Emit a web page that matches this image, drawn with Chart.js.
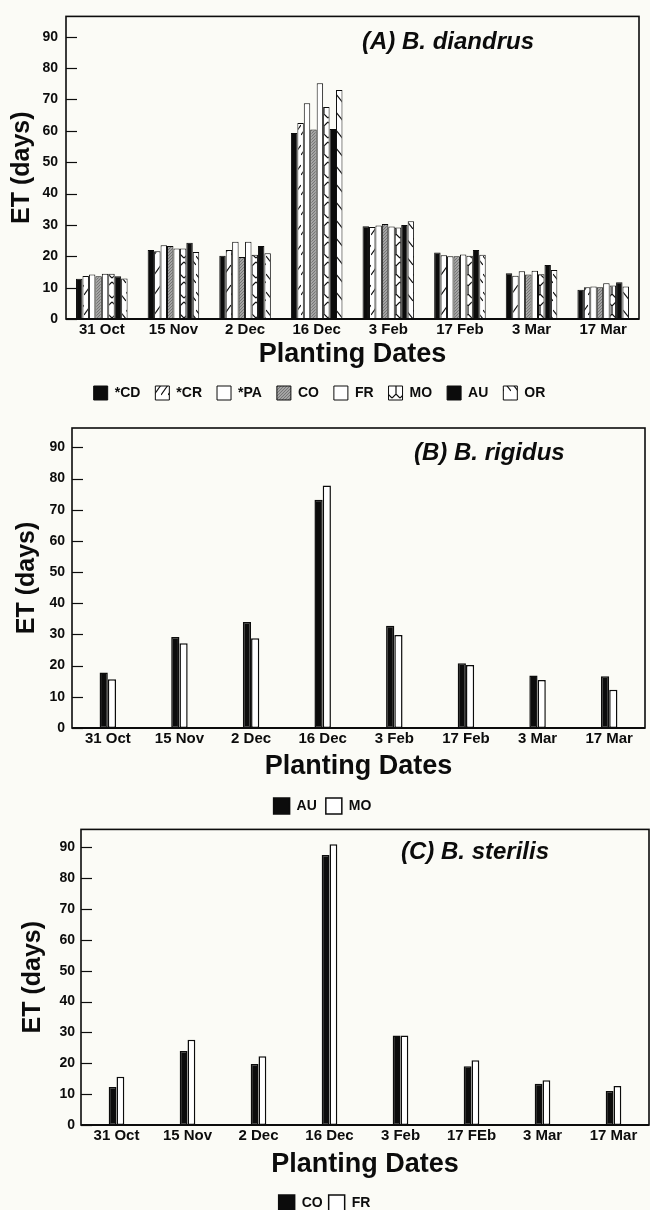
<!DOCTYPE html>
<html>
<head>
<meta charset="utf-8">
<script src="https://cdn.jsdelivr.net/npm/chart.js@4/dist/chart.umd.min.js"></script>
<style>
  html, body { margin: 0; padding: 0; background: #fbfbf6; overflow: hidden; }
  .panel { position: absolute; left: 0; width: 650px; }
</style>
</head>
<body>
<div class="panel" style="top:0;height:412px"><canvas id="chartA"></canvas></div>
<div class="panel" style="top:410px;height:414px"><canvas id="chartB"></canvas></div>
<div class="panel" style="top:815px;height:406px"><canvas id="chartC"></canvas></div>
<script>
// Planting dates (x categories)
const plantingDates = ['31 Oct', '15 Nov', '2 Dec', '16 Dec', '3 Feb', '17 Feb', '3 Mar', '17 Mar'];
const plantingDatesC = ['31 Oct', '15 Nov', '2 Dec', '16 Dec', '3 Feb', '17 FEb', '3 Mar', '17 Mar'];
const yTickValues = [0, 10, 20, 30, 40, 50, 60, 70, 80, 90];

// (A) B. diandrus — ET (days) per population
const diandrusCD = [12.8, 22.0, 20.2, 59.3, 29.6, 21.2, 14.6, 9.3];
const diandrusCR = [13.7, 21.6, 22.0, 62.5, 29.3, 20.3, 13.8, 10.1];
const diandrusPA = [14.2, 23.5, 24.6, 68.8, 29.8, 20.0, 15.2, 10.4];
const diandrusCO = [13.6, 23.3, 19.8, 60.4, 30.3, 20.0, 14.2, 10.1];
const diandrusFR = [14.4, 22.5, 24.6, 75.2, 29.5, 20.6, 15.4, 11.4];
const diandrusMO = [14.4, 22.5, 20.5, 67.6, 29.2, 20.2, 14.3, 10.7];
const diandrusAU = [13.6, 24.3, 23.3, 60.6, 30.0, 22.0, 17.2, 11.7];
const diandrusOR = [12.9, 21.4, 21.0, 73.0, 31.2, 20.5, 15.6, 10.4];

// (B) B. rigidus
const rigidusAU = [17.8, 29.2, 34.0, 73.2, 32.8, 20.8, 16.8, 16.6];
const rigidusMO = [15.6, 27.2, 28.8, 77.8, 29.8, 20.2, 15.4, 12.3];

// (C) B. sterilis
const sterilisCO = [12.3, 24.0, 19.8, 87.5, 29.0, 19.0, 13.4, 11.0];
const sterilisFR = [15.6, 27.6, 22.3, 91.0, 29.0, 21.0, 14.5, 12.6];

const FONT = "'Liberation Sans', Arial, sans-serif";
const INK = '#0c0c0c';

// Fill patterns for the monochrome bars
function tilePattern(ctx, w, h, draw) {
  const c = document.createElement('canvas');
  c.width = w; c.height = h;
  const g = c.getContext('2d');
  g.fillStyle = '#ffffff';
  g.fillRect(0, 0, w, h);
  g.strokeStyle = INK;
  g.fillStyle = INK;
  g.lineWidth = 1.2;
  draw(g, w, h);
  return ctx.createPattern(c, 'repeat');
}

function makePatterns(ctx) {
  return {
    slashUp: tilePattern(ctx, 7, 20, (g) => {
      g.beginPath(); g.moveTo(0, 15); g.lineTo(7, 5); g.stroke();
    }),
    slashDown: tilePattern(ctx, 7, 18, (g) => {
      g.beginPath(); g.moveTo(0, 4); g.lineTo(7, 13); g.stroke();
    }),
    hexes: tilePattern(ctx, 8, 20, (g) => {
      g.beginPath();
      g.moveTo(0, 2); g.lineTo(4, 6); g.lineTo(8, 2);
      g.moveTo(4, 6); g.lineTo(4, 14);
      g.moveTo(0, 18); g.lineTo(4, 14); g.lineTo(8, 18);
      g.stroke();
    }),
    stipple: tilePattern(ctx, 3, 3, (g) => {
      g.fillStyle = '#a4a4a4'; g.fillRect(0, 0, 3, 3);
      g.fillStyle = '#757575'; g.fillRect(0, 0, 1, 1); g.fillRect(2, 1, 1, 1); g.fillRect(1, 2, 1, 1);
    })
  };
}

// Frame, inward y tick marks and in-plot species title
const framePlugin = {
  id: 'panelFrame',
  afterDraw(chart, args, opts) {
    const { ctx, chartArea: a } = chart;
    const ys = chart.scales.y;
    ctx.save();
    ctx.strokeStyle = INK;
    ctx.lineWidth = 1.6;
    ctx.strokeRect(a.left, a.top, a.right - a.left, a.bottom - a.top);
    ctx.lineWidth = 1.2;
    ys.ticks.forEach((t) => {
      const py = Math.round(ys.getPixelForValue(t.value)) + 0.5;
      ctx.beginPath();
      ctx.moveTo(a.left, py);
      ctx.lineTo(a.left + 11, py);
      ctx.stroke();
    });
    ctx.lineWidth = 2;
    ctx.beginPath();
    ctx.moveTo(a.left, a.bottom);
    ctx.lineTo(a.right, a.bottom);
    ctx.stroke();
    ctx.fillStyle = INK;
    ctx.font = "italic bold 24px " + FONT;
    ctx.textAlign = 'left';
    ctx.textBaseline = 'middle';
    ctx.fillText(opts.text, a.left + opts.dx, a.top + opts.dy);
    ctx.restore();
  }
};

function buildChart(id, spec) {
  const el = document.getElementById(id);
  return new Chart(el, {
    type: 'bar',
    data: { labels: spec.labels, datasets: spec.datasets },
    plugins: [framePlugin],
    options: {
      responsive: true,
      maintainAspectRatio: false,
      animation: false,
      layout: { padding: spec.padding },
      datasets: {
        bar: {
          categoryPercentage: spec.categoryPercentage,
          barPercentage: 1.0,
          borderColor: INK,
          borderWidth: spec.barBorder,
          borderSkipped: false
        }
      },
      scales: {
        x: {
          grid: { display: false, drawTicks: false },
          border: { display: false },
          ticks: { color: INK, font: { family: FONT, size: 15, weight: 'bold' }, padding: 2, maxRotation: 0, autoSkip: false },
          title: {
            display: true, text: 'Planting Dates', color: INK,
            font: { family: FONT, size: 27, weight: 'bold' },
            padding: { top: 0, bottom: spec.xTitlePadBottom }
          },
          afterFit: (s) => { s.height = spec.xHeight; }
        },
        y: {
          min: 0,
          max: spec.yMax,
          grid: { display: false, drawTicks: false },
          border: { display: false },
          afterBuildTicks: (s) => { s.ticks = yTickValues.map((v) => ({ value: v })); },
          ticks: { color: INK, font: { family: FONT, size: 14, weight: 'bold' }, padding: spec.yTickPad },
          title: {
            display: true, text: 'ET (days)', color: INK,
            font: { family: FONT, size: 25, weight: 'bold' },
            padding: { top: spec.yTitlePad, bottom: 0 }
          },
          afterFit: (s) => { s.width = spec.yWidth; }
        }
      },
      plugins: {
        legend: {
          position: 'bottom',
          labels: {
            color: INK,
            font: { family: FONT, size: 14, weight: 'bold' },
            boxWidth: spec.legendBox,
            boxHeight: spec.legendBox,
            padding: spec.legendPad
          }
        },
        tooltip: { enabled: false },
        panelFrame: spec.title
      }
    }
  });
}

const ctxA = document.getElementById('chartA').getContext('2d');
const patA = makePatterns(ctxA);

buildChart('chartA', {
  labels: plantingDates,
  datasets: [
    { label: '*CD', data: diandrusCD, backgroundColor: INK },
    { label: '*CR', data: diandrusCR, backgroundColor: patA.slashUp },
    { label: '*PA', data: diandrusPA, backgroundColor: '#ffffff' },
    { label: 'CO', data: diandrusCO, backgroundColor: patA.stipple },
    { label: 'FR', data: diandrusFR, backgroundColor: '#ffffff' },
    { label: 'MO', data: diandrusMO, backgroundColor: patA.hexes },
    { label: 'AU', data: diandrusAU, backgroundColor: INK },
    { label: 'OR', data: diandrusOR, backgroundColor: patA.slashDown }
  ],
  padding: { top: 16, right: 11, left: 0, bottom: 2 },
  categoryPercentage: 0.72,
  barBorder: 1,
  xHeight: 52,
  xTitlePadBottom: 0,
  yMax: 96.5,
  yTickPad: 8,
  yTitlePad: 7,
  yWidth: 66,
  legendBox: 14,
  legendPad: 15,
  title: { text: '(A) B. diandrus', dx: 296, dy: 26 }
});

buildChart('chartB', {
  labels: plantingDates,
  datasets: [
    { label: 'AU', data: rigidusAU, backgroundColor: INK },
    { label: 'MO', data: rigidusMO, backgroundColor: '#ffffff' }
  ],
  padding: { top: 18, right: 5, left: 0, bottom: 0 },
  categoryPercentage: 0.23,
  barBorder: 1.5,
  xHeight: 61,
  xTitlePadBottom: 6,
  yMax: 96.2,
  yTickPad: 7,
  yTitlePad: 12,
  yWidth: 72,
  legendBox: 16,
  legendPad: 9,
  title: { text: '(B) B. rigidus', dx: 342, dy: 25 }
});

buildChart('chartC', {
  labels: plantingDatesC,
  datasets: [
    { label: 'CO', data: sterilisCO, backgroundColor: INK },
    { label: 'FR', data: sterilisFR, backgroundColor: '#ffffff' }
  ],
  padding: { top: 10, right: 1, left: 0, bottom: 0 },
  categoryPercentage: 0.22,
  barBorder: 1.5,
  xHeight: 64,
  xTitlePadBottom: 8,
  yMax: 95.8,
  yTickPad: 6,
  yTitlePad: 18,
  yWidth: 81,
  legendBox: 16,
  legendPad: 6,
  title: { text: '(C) B. sterilis', dx: 320, dy: 23 }
});
</script>
</body>
</html>
